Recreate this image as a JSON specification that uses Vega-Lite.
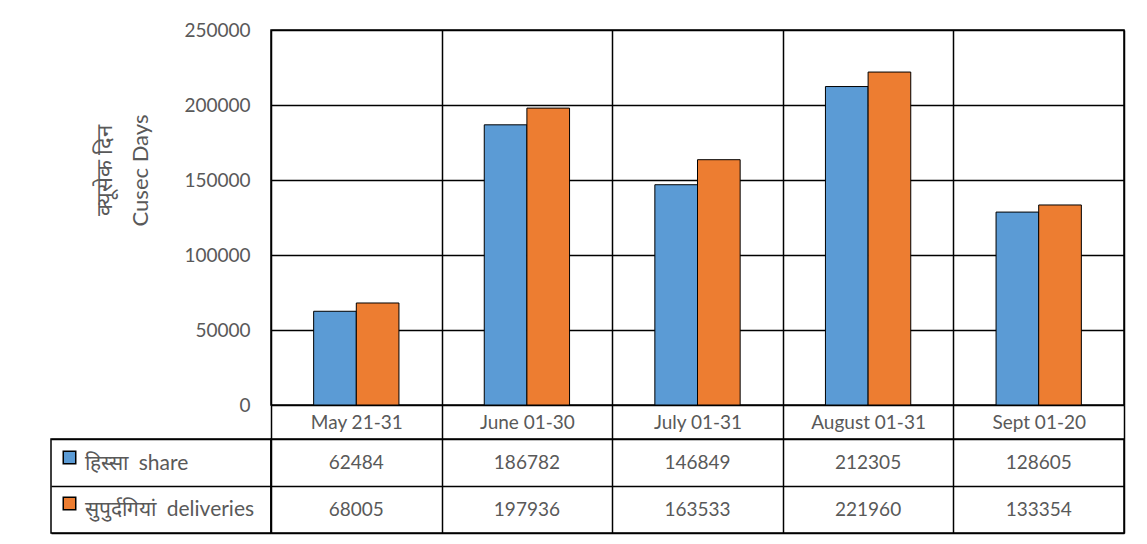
{
  "$schema": "https://vega.github.io/schema/vega-lite/v6.json",
  "background": "white",
  "padding": {"left": 50, "top": 20, "right": 24, "bottom": 11},
  "config": {
    "font": "Lato",
    "view": {"stroke": "black", "strokeWidth": 1.5},
    "axis": {"labelFont": "Lato", "titleFont": "Lato"},
    "legend": {"labelFont": "Lato"}
  },
  "datasets": {
    "vals": [
      {"category": "May 21-31", "series": "हिस्सा  share", "value": 62484},
      {"category": "May 21-31", "series": "सुपुर्दगियां  deliveries", "value": 68005},
      {"category": "June 01-30", "series": "हिस्सा  share", "value": 186782},
      {"category": "June 01-30", "series": "सुपुर्दगियां  deliveries", "value": 197936},
      {"category": "July 01-31", "series": "हिस्सा  share", "value": 146849},
      {"category": "July 01-31", "series": "सुपुर्दगियां  deliveries", "value": 163533},
      {"category": "August 01-31", "series": "हिस्सा  share", "value": 212305},
      {"category": "August 01-31", "series": "सुपुर्दगियां  deliveries", "value": 221960},
      {"category": "Sept 01-20", "series": "हिस्सा  share", "value": 128605},
      {"category": "Sept 01-20", "series": "सुपुर्दगियां  deliveries", "value": 133354}
    ],
    "series": [
      {"series": "हिस्सा  share"},
      {"series": "सुपुर्दगियां  deliveries"}
    ],
    "empty": []
  },
  "bounds": "flush",
  "columns": 2,
  "spacing": {"row": 34, "column": 0},
  "resolve": {"legend": {"color": "independent"}},
  "concat": [
    {
      "width": 220,
      "height": 375,
      "view": {"stroke": null},
      "data": {"name": "empty"},
      "mark": "point",
      "encoding": {}
    },
    {
      "width": 853,
      "height": 375,
      "data": {"name": "vals"},
      "mark": {"type": "bar", "stroke": "black", "strokeWidth": 1},
      "encoding": {
        "x": {
          "field": "category",
          "type": "nominal",
          "sort": ["May 21-31", "June 01-30", "July 01-31", "August 01-31", "Sept 01-20"],
          "scale": {"paddingInner": 0, "paddingOuter": 0},
          "axis": {
            "title": null,
            "labelAngle": 0,
            "tickBand": "extent",
            "grid": true,
            "gridColor": "black",
            "gridOpacity": 1,
            "gridWidth": 1.5,
            "ticks": true,
            "tickSize": 34,
            "tickColor": "black",
            "tickWidth": 1.5,
            "domain": false,
            "labelPadding": -17,
            "labelBaseline": "middle",
            "labelFontSize": 19,
            "labelColor": "#595959"
          }
        },
        "xOffset": {
          "field": "series",
          "type": "nominal",
          "scale": {"domain": ["हिस्सा  share", "सुपुर्दगियां  deliveries"], "paddingInner": 0, "paddingOuter": 1}
        },
        "y": {
          "field": "value",
          "type": "quantitative",
          "scale": {"domain": [0, 250000]},
          "axis": {
            "values": [0, 50000, 100000, 150000, 200000, 250000],
            "format": "d",
            "grid": true,
            "gridColor": "black",
            "gridOpacity": 1,
            "gridWidth": 1.5,
            "domain": false,
            "ticks": false,
            "labelPadding": 21,
            "labelFontSize": 19,
            "labelColor": "#595959",
            "title": ["क्यूसेक दिन", "Cusec Days"],
            "titleFontSize": 22,
            "titleFontWeight": "normal",
            "titleColor": "#595959",
            "titleLineHeight": 36,
            "titleX": -155,
            "titleY": 140
          }
        },
        "color": {
          "field": "series",
          "type": "nominal",
          "scale": {"domain": ["हिस्सा  share", "सुपुर्दगियां  deliveries"], "range": ["#5B9BD5", "#ED7D31"]},
          "legend": null
        }
      }
    },
    {
      "width": 220,
      "height": 94,
      "data": {"name": "series"},
      "mark": {"type": "square", "filled": true, "opacity": 0},
      "encoding": {
        "y": {
          "field": "series",
          "type": "nominal",
          "sort": ["हिस्सा  share", "सुपुर्दगियां  deliveries"],
          "scale": {"paddingInner": 0, "paddingOuter": 0},
          "axis": {
            "title": null,
            "labels": false,
            "ticks": false,
            "domain": false,
            "grid": true,
            "tickBand": "extent",
            "gridColor": "black",
            "gridOpacity": 1,
            "gridWidth": 1.5
          }
        },
        "color": {
          "field": "series",
          "type": "nominal",
          "scale": {"domain": ["हिस्सा  share", "सुपुर्दगियां  deliveries"], "range": ["#5B9BD5", "#ED7D31"]},
          "legend": {
            "orient": "none",
            "legendX": 8,
            "legendY": 8,
            "padding": 0,
            "title": null,
            "symbolType": "square",
            "symbolSize": 156,
            "labelFontSize": 21,
            "labelColor": "#595959",
            "labelLimit": 0,
            "labelOffset": 5,
            "rowPadding": 19,
            "encode": {
              "symbols": {"update": {"stroke": {"value": "black"}, "strokeWidth": {"value": 1.5}, "opacity": {"value": 1}}},
              "labels": {"update": {"dy": {"value": 6}, "text": {"signal": "replace(datum.label, '  ', '\u00a0\u00a0')"}}}
            }
          }
        }
      }
    },
    {
      "width": 853,
      "height": 94,
      "data": {"name": "vals"},
      "mark": {"type": "text", "fontSize": 19, "color": "#595959"},
      "encoding": {
        "x": {
          "field": "category",
          "type": "nominal",
          "sort": ["May 21-31", "June 01-30", "July 01-31", "August 01-31", "Sept 01-20"],
          "scale": {"paddingInner": 0, "paddingOuter": 0},
          "axis": {
            "title": null,
            "labels": false,
            "ticks": false,
            "domain": false,
            "grid": true,
            "tickBand": "extent",
            "gridColor": "black",
            "gridOpacity": 1,
            "gridWidth": 1.5
          }
        },
        "y": {
          "field": "series",
          "type": "nominal",
          "sort": ["हिस्सा  share", "सुपुर्दगियां  deliveries"],
          "scale": {"paddingInner": 0, "paddingOuter": 0},
          "axis": {
            "title": null,
            "labels": false,
            "ticks": false,
            "domain": false,
            "grid": true,
            "tickBand": "extent",
            "gridColor": "black",
            "gridOpacity": 1,
            "gridWidth": 1.5
          }
        },
        "text": {"field": "value", "type": "quantitative", "format": "d"}
      }
    }
  ]
}
